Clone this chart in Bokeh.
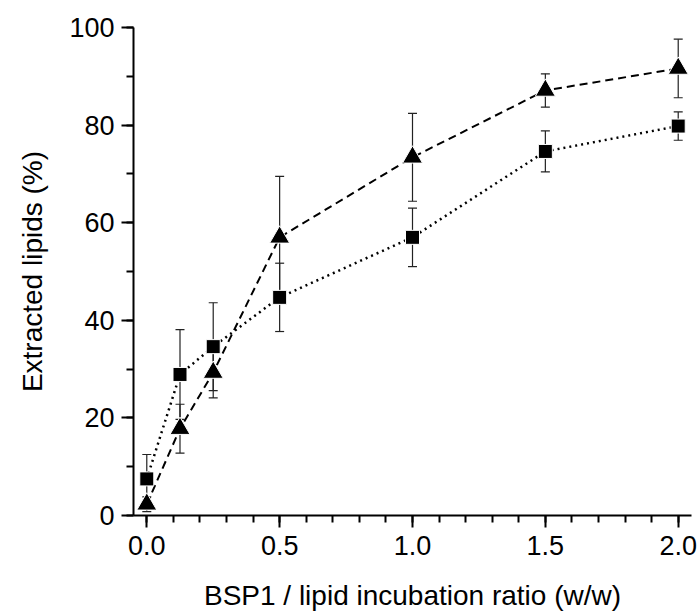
from bokeh.plotting import figure
from bokeh.models import ColumnDataSource, Whisker, TeeHead, Range1d, FixedTicker
from bokeh.embed import file_html
from bokeh.resources import INLINE

# Data
ratio = [0.0, 0.125, 0.25, 0.5, 1.0, 1.5, 2.0]
tri_vals = [2.3, 17.8, 29.3, 57.0, 73.4, 87.1, 91.6]
tri_err = [1.5, 5.0, 5.2, 12.5, 9.0, 3.4, 6.0]
sq_vals = [7.5, 28.9, 34.6, 44.7, 57.0, 74.6, 79.8]
sq_err = [5.0, 9.2, 9.0, 7.0, 6.0, 4.2, 2.9]
x_ticks = [0.0, 0.5, 1.0, 1.5, 2.0]
y_ticks = [0, 20, 40, 60, 80, 100]

FONT = "Liberation Sans"

p = figure(width=698, height=613, output_backend="svg", toolbar_location=None,
           x_range=Range1d(-0.05, 2.05), y_range=Range1d(0, 100),
           min_border_left=133, min_border_right=7, min_border_top=27, min_border_bottom=98)
p.outline_line_color = None
p.grid.visible = False
p.background_fill_color = "white"
p.border_fill_color = "white"

tri = ColumnDataSource(dict(x=ratio, y=tri_vals,
                            lo=[v - e for v, e in zip(tri_vals, tri_err)],
                            hi=[v + e for v, e in zip(tri_vals, tri_err)]))
sq = ColumnDataSource(dict(x=ratio, y=sq_vals,
                           lo=[v - e for v, e in zip(sq_vals, sq_err)],
                           hi=[v + e for v, e in zip(sq_vals, sq_err)]))

for src in (tri, sq):
    w = Whisker(source=src, base="x", upper="hi", lower="lo",
                line_color="#222222", line_width=1.2,
                upper_head=TeeHead(size=9, line_color="#222222", line_width=1.2),
                lower_head=TeeHead(size=9, line_color="#222222", line_width=1.2))
    p.add_layout(w)

p.line("x", "y", source=sq, line_color="black", line_width=2.5, line_dash="2 4")
p.line("x", "y", source=tri, line_color="black", line_width=2, line_dash="8 5")
p.scatter("x", "y", source=sq, marker="square", size=14, fill_color="black",
          line_color="white", line_width=1)
p.scatter("x", "y", source=tri, marker="triangle", size=20, fill_color="black",
          line_color="white", line_width=1)

# Axes
p.xaxis.ticker = FixedTicker(ticks=x_ticks, minor_ticks=[i / 10 for i in range(0, 21)])
p.yaxis.ticker = FixedTicker(ticks=y_ticks, minor_ticks=list(range(0, 101, 10)))
for ax in (p.xaxis[0], p.yaxis[0]):
    ax.axis_line_width = 2
    ax.axis_line_color = "black"
    ax.major_tick_line_width = 2
    ax.minor_tick_line_width = 2
    ax.major_tick_line_color = "black"
    ax.minor_tick_line_color = "black"
    ax.major_tick_out = 12
    ax.major_tick_in = 0
    ax.minor_tick_out = 7
    ax.minor_tick_in = 0
    ax.major_label_text_font = FONT
    ax.major_label_text_font_size = "27px"
    ax.major_label_text_color = "black"
    ax.axis_label_text_font = FONT
    ax.axis_label_text_font_size = "28px"
    ax.axis_label_text_font_style = "normal"
    ax.axis_label_text_color = "black"

p.xaxis.axis_label = "BSP1 / lipid incubation ratio (w/w)"
p.yaxis.axis_label = "Extracted lipids (%)"
p.xaxis.major_label_overrides = {t: f"{t:.1f}" for t in x_ticks}
p.xaxis.major_label_standoff = 8
p.xaxis.axis_label_standoff = 22
p.yaxis.major_label_standoff = 7
p.yaxis.axis_label_standoff = 18

open("out.html", "w").write(file_html(p, INLINE))
